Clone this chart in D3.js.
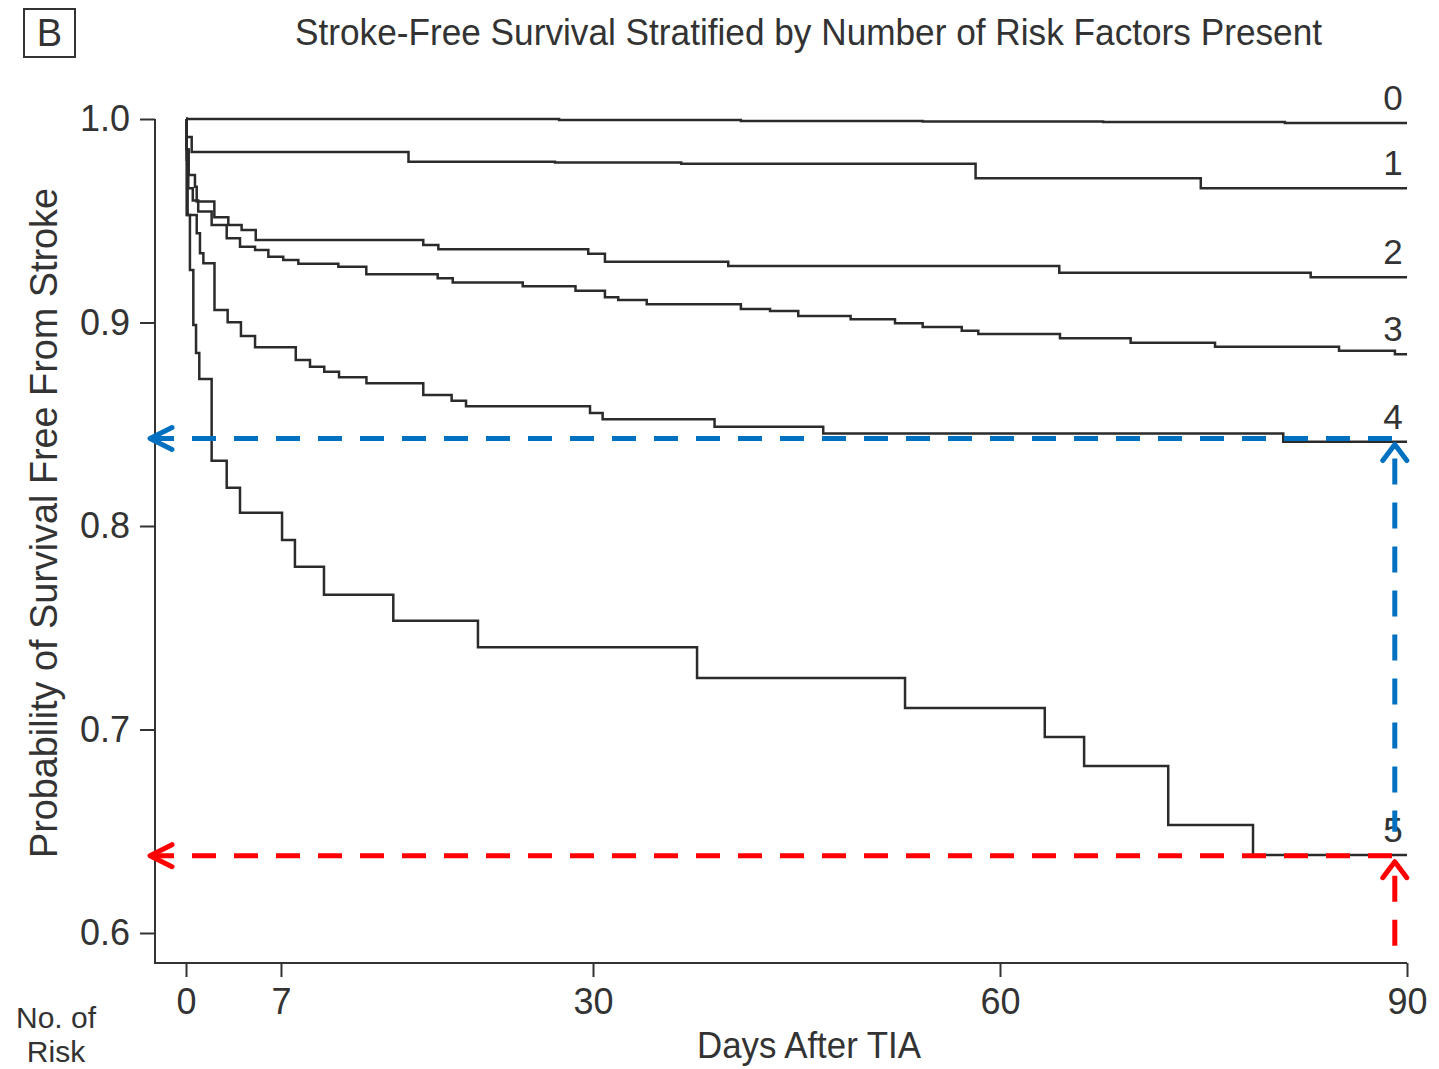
<!DOCTYPE html>
<meta charset="utf-8">

<!-- Load d3.js -->
<script src="https://d3js.org/d3.v7.js"></script>

<style>
  body { margin: 0; background: #fff; }
  text { font-family: "Liberation Sans", Arial, Helvetica, sans-serif; fill: #333; }
</style>

<!-- Create a div where the graph will take place -->
<div id="my_dataviz"></div>

<script>

    // number of risk factors present (curve labels)
    const groups = ["0", "1", "2", "3", "4", "5"];

    // Kaplan-Meier steps: [day, survival after the drop]
    const group0 = [[0, 1.0], [27.5, 0.9995], [40.9, 0.999], [54.3, 0.9988], [67.6, 0.9985], [81.0, 0.998]];
    const group1 = [[0, 1.0], [0.05, 0.9912], [0.42, 0.9838], [16.4, 0.979], [27.2, 0.9786], [36.5, 0.978],
                    [58.2, 0.9709], [74.8, 0.966]];
    const group2 = [[0, 1.0], [0.05, 0.985], [0.2, 0.9725], [0.66, 0.9667], [0.79, 0.9594], [2.09, 0.9517],
                    [3.12, 0.9479], [4.1, 0.9455], [5.14, 0.9405], [17.49, 0.9381], [18.6, 0.936],
                    [29.65, 0.9338], [30.88, 0.9299], [39.97, 0.9278], [64.37, 0.9245], [82.9, 0.9222]];
    const group3 = [[0, 1.0], [0.05, 0.985], [0.17, 0.966], [0.5, 0.96], [0.9, 0.9545], [1.89, 0.9479],
                    [3.0, 0.9414], [3.98, 0.9372], [5.09, 0.9356], [6.07, 0.9323], [7.17, 0.9307],
                    [8.28, 0.9289], [11.23, 0.9274], [13.29, 0.9237], [18.55, 0.9217], [19.66, 0.9197],
                    [24.82, 0.9178], [28.71, 0.9156], [30.88, 0.9124], [31.86, 0.9111], [33.96, 0.909],
                    [40.9, 0.9066], [43.05, 0.9057], [45.13, 0.9032], [48.99, 0.9016], [52.26, 0.8996],
                    [54.3, 0.8978], [57.18, 0.896], [58.4, 0.8943], [64.42, 0.8922], [69.63, 0.8901],
                    [75.85, 0.8881], [84.99, 0.8861], [89.11, 0.8844]];
    const group4 = [[0, 1.0], [0.05, 0.98], [0.12, 0.9528], [0.79, 0.9438], [1.03, 0.934], [1.28, 0.9291],
                    [2.1, 0.9061], [3.07, 0.9001], [4.05, 0.8934], [5.09, 0.8878], [8.09, 0.8816],
                    [9.14, 0.8783], [10.19, 0.8758], [11.28, 0.8731], [13.3, 0.8701], [17.49, 0.8644],
                    [19.58, 0.8616], [20.64, 0.8588], [29.78, 0.8555], [30.71, 0.8524], [38.96, 0.8488],
                    [46.97, 0.8454], [80.88, 0.8414]];
    const group5 = [[0, 1.0], [0.05, 0.9528], [0.29, 0.9258], [0.54, 0.8988], [0.74, 0.885], [0.98, 0.8722],
                    [1.89, 0.8321], [3.0, 0.8188], [3.98, 0.8065], [7.08, 0.7931], [8.03, 0.78],
                    [10.17, 0.7662], [15.28, 0.7535], [21.52, 0.7404], [37.67, 0.7253], [53.0, 0.7106],
                    [63.3, 0.6963], [66.2, 0.6821], [72.4, 0.6531], [78.65, 0.6383]];

    const xTicks = [0, 7, 30, 60, 90];
    const yTicks = [0.6, 0.7, 0.8, 0.9, 1.0];

    // reference arrows added on top of the figure
    const refDay = 89.1;
    const refLevels = [0.843, 0.638];
    const refColors = ["#0070C0", "#FF0000"];

    const width = 1439, height = 1069;

    const svg = d3.select("#my_dataviz")
      .append("svg")
        .attr("width", width)
        .attr("height", height);

    const x = d3.scaleLinear().domain([0, 90]).range([186, 1407]);
    const y = d3.scaleLinear().domain([0.6, 1.0]).range([933, 119]);
    const axisLeftX = 155, axisBottomY = 963;

    // panel letter
    svg.append("rect")
      .attr("x", 24).attr("y", 9).attr("width", 51).attr("height", 48)
      .attr("fill", "none").attr("stroke", "#333").attr("stroke-width", 2);
    svg.append("text")
      .attr("x", 49.5).attr("y", 46)
      .attr("text-anchor", "middle")
      .style("font-size", "38px")
      .text("B");

    // title
    svg.append("text")
      .attr("x", 295).attr("y", 45)
      .attr("textLength", 1027).attr("lengthAdjust", "spacingAndGlyphs")
      .style("font-size", "37px")
      .text("Stroke-Free Survival Stratified by Number of Risk Factors Present");

    // Y axis
    const yAxis = svg.append("g")
      .attr("transform", `translate(${axisLeftX},0)`)
      .call(d3.axisLeft(y).tickValues(yTicks).tickSize(15).tickPadding(10).tickFormat(d3.format(".1f")));
    yAxis.select(".domain").remove();
    yAxis.selectAll("line").attr("stroke", "#333").attr("stroke-width", 2);
    yAxis.selectAll("text").style("font-size", "36px").attr("fill", "#333").attr("font-family", null);
    svg.append("line")
      .attr("x1", axisLeftX).attr("x2", axisLeftX)
      .attr("y1", y(1.0)).attr("y2", axisBottomY + 1)
      .attr("stroke", "#333").attr("stroke-width", 2);

    // X axis
    const xAxis = svg.append("g")
      .attr("transform", `translate(0,${axisBottomY})`)
      .call(d3.axisBottom(x).tickValues(xTicks).tickSize(14).tickPadding(11));
    xAxis.select(".domain").remove();
    xAxis.selectAll("line").attr("stroke", "#333").attr("stroke-width", 2);
    xAxis.selectAll("text").style("font-size", "36px").attr("fill", "#333").attr("font-family", null);
    svg.append("line")
      .attr("x1", axisLeftX).attr("x2", x(90))
      .attr("y1", axisBottomY).attr("y2", axisBottomY)
      .attr("stroke", "#333").attr("stroke-width", 2);

    // axis titles
    svg.append("text")
      .attr("x", 809).attr("y", 1058)
      .attr("text-anchor", "middle")
      .attr("textLength", 224).attr("lengthAdjust", "spacingAndGlyphs")
      .style("font-size", "36px")
      .text("Days After TIA");

    svg.append("text")
      .attr("transform", "translate(57,523) rotate(-90)")
      .attr("text-anchor", "middle")
      .attr("textLength", 670).attr("lengthAdjust", "spacingAndGlyphs")
      .style("font-size", "38px")
      .text("Probability of Survival Free From Stroke");

    svg.append("text")
      .attr("x", 56).attr("y", 1028)
      .attr("text-anchor", "middle")
      .style("font-size", "30px")
      .text("No. of");
    svg.append("text")
      .attr("x", 56).attr("y", 1062)
      .attr("text-anchor", "middle")
      .style("font-size", "30px")
      .text("Risk");

    // survival curves
    const series = [group0, group1, group2, group3, group4, group5];
    const line = d3.line()
      .x(d => x(d[0]))
      .y(d => y(d[1]))
      .curve(d3.curveStepAfter);

    series.forEach(function (s, i) {
      const pts = s.concat([[90, s[s.length - 1][1]]]);
      svg.append("path")
        .datum(pts)
        .attr("d", line)
        .attr("fill", "none")
        .attr("stroke", "#2b2b2b")
        .attr("stroke-width", 2.5);

      svg.append("text")
        .attr("x", x(90) - 14)
        .attr("y", y(s[s.length - 1][1]) - 13)
        .attr("text-anchor", "middle")
        .style("font-size", "35px")
        .text(groups[i]);
    });

    // dashed reference arrows
    refLevels.forEach(function (v, i) {
      const c = refColors[i];
      const yv = y(v), xv = x(refDay);
      const yEnd = i === 0 ? y(refLevels[1]) - 24 : 950;

      svg.append("line")
        .attr("x1", 150).attr("x2", xv)
        .attr("y1", yv).attr("y2", yv)
        .attr("stroke", c).attr("stroke-width", 5)
        .attr("stroke-dasharray", "24,18");
      svg.append("polyline")
        .attr("points", `172,${yv - 11} 150,${yv} 172,${yv + 11}`)
        .attr("fill", "none").attr("stroke", c).attr("stroke-width", 5)
        .attr("stroke-linecap", "round").attr("stroke-linejoin", "round");

      svg.append("line")
        .attr("x1", xv).attr("x2", xv)
        .attr("y1", yv + 20).attr("y2", yEnd)
        .attr("stroke", c).attr("stroke-width", 5)
        .attr("stroke-dasharray", "26,18");
      svg.append("polyline")
        .attr("points", `${xv - 12},${yv + 22} ${xv},${yv + 6} ${xv + 12},${yv + 22}`)
        .attr("fill", "none").attr("stroke", c).attr("stroke-width", 5)
        .attr("stroke-linecap", "round").attr("stroke-linejoin", "round");
    });

</script>
